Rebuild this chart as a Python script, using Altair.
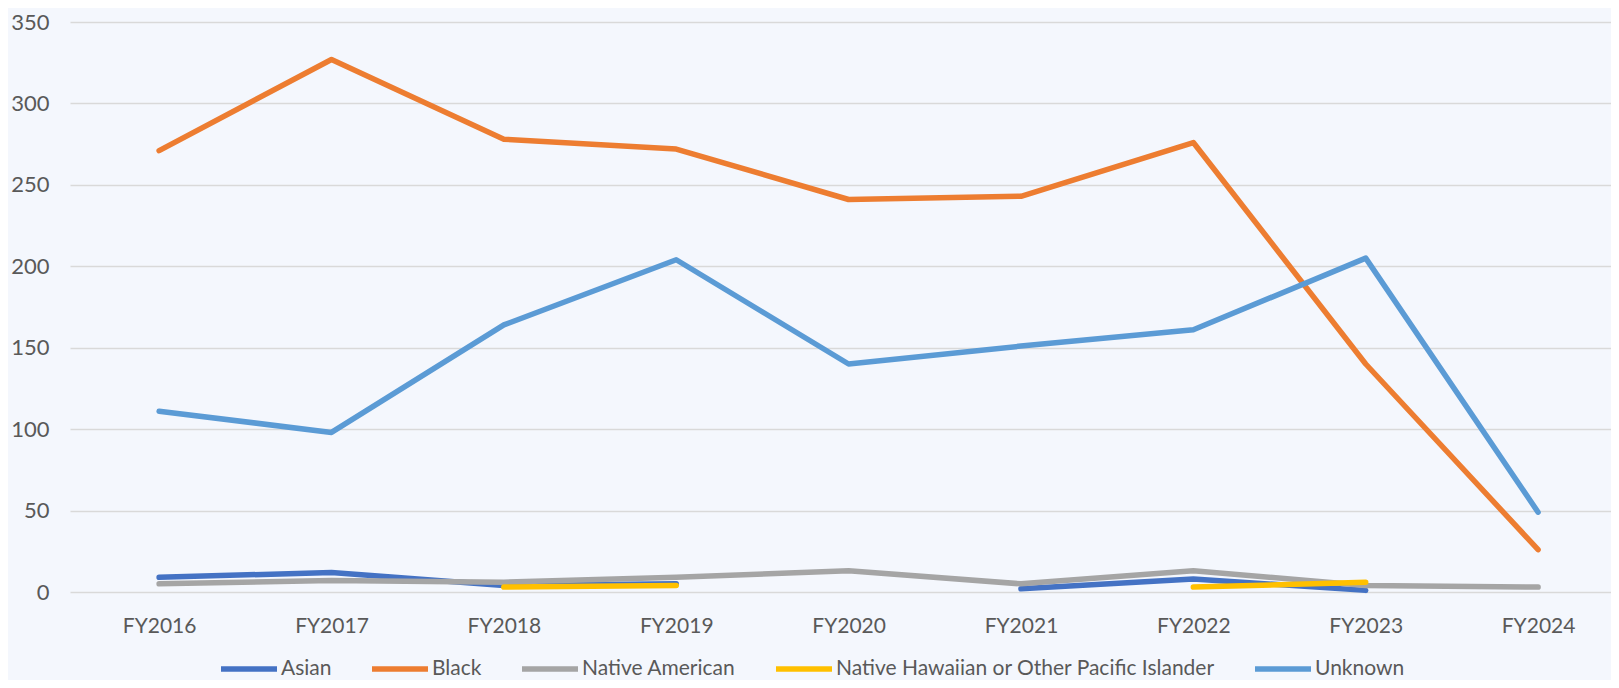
import altair as alt
import pandas as pd

years = ["FY2016", "FY2017", "FY2018", "FY2019", "FY2020", "FY2021", "FY2022", "FY2023", "FY2024"]
series_names = ["Asian", "Black", "Native American", "Native Hawaiian or Other Pacific Islander", "Unknown"]
series_colors = ["#4472C4", "#ED7D31", "#A5A5A5", "#FFC000", "#5B9BD5"]

asian = [9, 12, 4, 5, None, 2, 8, 1, None]
black = [271, 327, 278, 272, 241, 243, 276, 140, 26]
native_american = [5, 7, 6, 9, 13, 5, 13, 4, 3]
nhpi = [None, None, 3, 4, None, None, 3, 6, None]
unknown = [111, 98, 164, 204, 140, 151, 161, 205, 49]

y_ticks = [0, 50, 100, 150, 200, 250, 300, 350]

rows = []
for order, (name, vals) in enumerate(zip(series_names, [asian, black, native_american, nhpi, unknown])):
    seg = 0
    prev_none = True
    for yr, v in zip(years, vals):
        if v is None:
            prev_none = True
            continue
        if prev_none:
            seg += 1
            prev_none = False
        rows.append({"year": yr, "value": v, "series": name, "seg": f"{name}-{seg}", "order": order})
df = pd.DataFrame(rows)

FONT = "Lato"
TXT = "#595959"

chart = alt.Chart(df).mark_line(
    strokeWidth=5.5, strokeCap="round", strokeJoin="round"
).encode(
    x=alt.X("year:N", sort=years,
            scale=alt.Scale(type="point", padding=0.47, align=0.55),
            axis=alt.Axis(title=None, labelAngle=0, ticks=False, domain=False,
                          labelPadding=23, labelFontSize=21, labelFont=FONT,
                          labelColor=TXT, grid=False)),
    y=alt.Y("value:Q", scale=alt.Scale(domain=[0, 350], nice=False),
            axis=alt.Axis(title=None, values=y_ticks, ticks=False, domain=False,
                          labelPadding=21, labelFontSize=22, labelFont=FONT,
                          labelColor=TXT, gridColor="#D9D9D9", gridWidth=1.3)),
    color=alt.Color("series:N", sort=series_names,
                    scale=alt.Scale(domain=series_names, range=series_colors),
                    legend=alt.Legend(title=None, orient="none", legendX=148, legendY=616,
                                      direction="horizontal", columns=5, gridAlign="none",
                                      symbolType="stroke", symbolSize=3136,
                                      symbolStrokeWidth=5.5, labelFontSize=21,
                                      labelFont=FONT, labelColor=TXT, labelOffset=1,
                                      columnPadding=29, padding=0, labelLimit=600)),
    detail="seg:N",
    order="order:Q",
).properties(
    width=1541, height=570,
    autosize=alt.AutoSizeParams(type="none"),
    padding={"left": 62, "top": 14, "right": 0, "bottom": 88},
    background="#F4F7FD",
).configure_view(stroke=None)

chart.save("out.html", embed_options={"renderer": "svg", "actions": False})
